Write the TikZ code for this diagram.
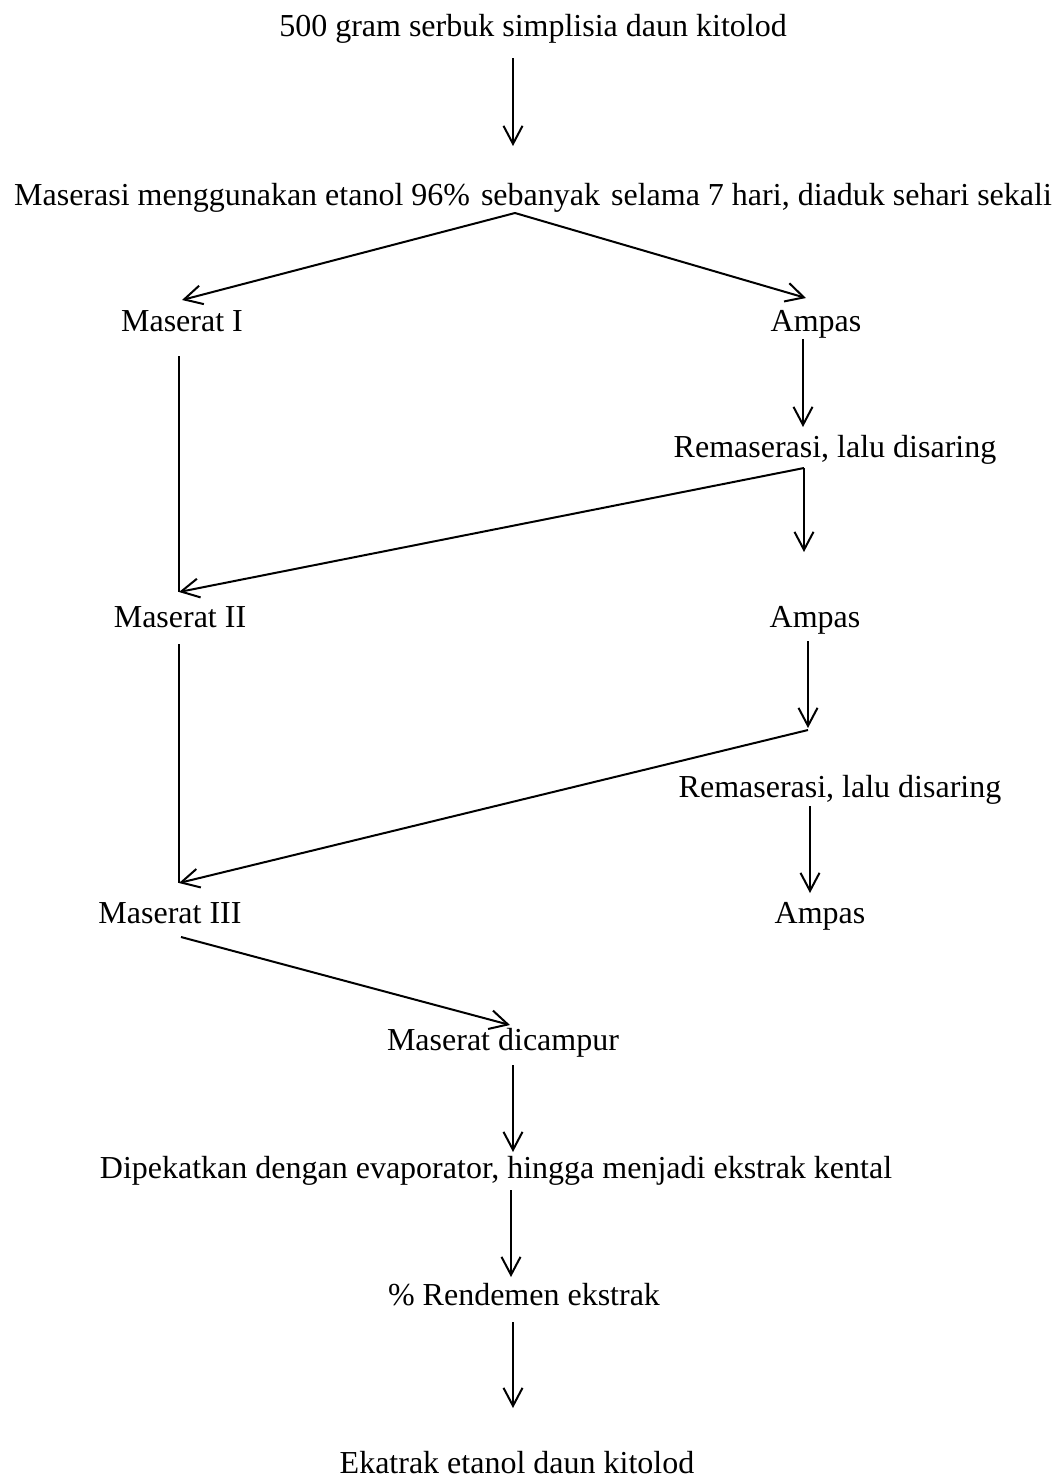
\documentclass[tikz,border=0pt]{standalone}
\usepackage{fontspec}
\setmainfont{Liberation Serif}
\usetikzlibrary{arrows.meta}
\begin{document}
\begin{tikzpicture}[x=0.5pt,y=-0.5pt,
  lbl/.style={anchor=base,inner sep=0pt,font=\fontsize{16}{19}\selectfont},
  con/.style={line width=1pt},
  arr/.style={con,-{Straight Barb[length=9pt,width=9.5pt,line width=1pt]}}]
\useasboundingbox (0,0) rectangle (1060,1479);
% text nodes
\node[lbl] (t1) at (533,36) {500 gram serbuk simplisia daun kitolod};
\node[lbl] (t2) at (533,205) {Maserasi menggunakan etanol 96\% \hspace{1.5pt}sebanyak \hspace{1.5pt}selama 7 hari, diaduk sehari sekali};
\node[lbl] (m1) at (182,331) {Maserat I};
\node[lbl] (a1) at (816,331) {Ampas};
\node[lbl] (r1) at (835,457) {Remaserasi, lalu disaring};
\node[lbl] (m2) at (180,627) {Maserat II};
\node[lbl] (a2) at (815,627) {Ampas};
\node[lbl] (r2) at (840,797) {Remaserasi, lalu disaring};
\node[lbl] (m3) at (170,923) {Maserat III};
\node[lbl] (a3) at (820,923) {Ampas};
\node[lbl] (mc) at (503,1050) {Maserat dicampur};
\node[lbl] (dp) at (496,1178) {Dipekatkan dengan evaporator, hingga menjadi ekstrak kental};
\node[lbl] (rd) at (524,1305) {\% Rendemen ekstrak};
\node[lbl] (ek) at (517,1473) {Ekatrak etanol daun kitolod};
% connector points
\coordinate (t1s) at (513,58);
\coordinate (t2n) at (513,146);
\coordinate (t2s) at (515,213);
\coordinate (m1n) at (182,300);
\coordinate (a1n) at (806,298);
\coordinate (m1s) at (179,356);
\coordinate (m2n) at (179,592);
\coordinate (a1s) at (803,339);
\coordinate (r1n) at (803,427);
\coordinate (r1s) at (804,468);
\coordinate (a2n) at (804,552);
\coordinate (m2s) at (179,644);
\coordinate (m3n) at (179,883);
\coordinate (a2s) at (808,641);
\coordinate (r2t) at (808,728);
\coordinate (r2j) at (808,730);
\coordinate (r2s) at (810,806);
\coordinate (a3n) at (810,893);
\coordinate (m3s) at (181,937);
\coordinate (mcn) at (510,1025);
\coordinate (mcs) at (513,1065);
\coordinate (dpn) at (513,1152);
\coordinate (dps) at (511,1190);
\coordinate (rdn) at (511,1277);
\coordinate (rds) at (513,1322);
\coordinate (ekn) at (513,1408);
% connectors
\draw[arr] (t1s) -- (t2n);
\draw[arr] (t2s) -- (m1n);
\draw[arr] (t2s) -- (a1n);
\draw[con] (m1s) -- (m2n);
\draw[arr] (a1s) -- (r1n);
\draw[arr] (r1s) -- (a2n);
\draw[arr] (r1s) -- (m2n);
\draw[con] (m2s) -- (m3n);
\draw[arr] (a2s) -- (r2t);
\draw[arr] (r2j) -- (m3n);
\draw[arr] (r2s) -- (a3n);
\draw[arr] (m3s) -- (mcn);
\draw[arr] (mcs) -- (dpn);
\draw[arr] (dps) -- (rdn);
\draw[arr] (rds) -- (ekn);
\end{tikzpicture}
\end{document}
